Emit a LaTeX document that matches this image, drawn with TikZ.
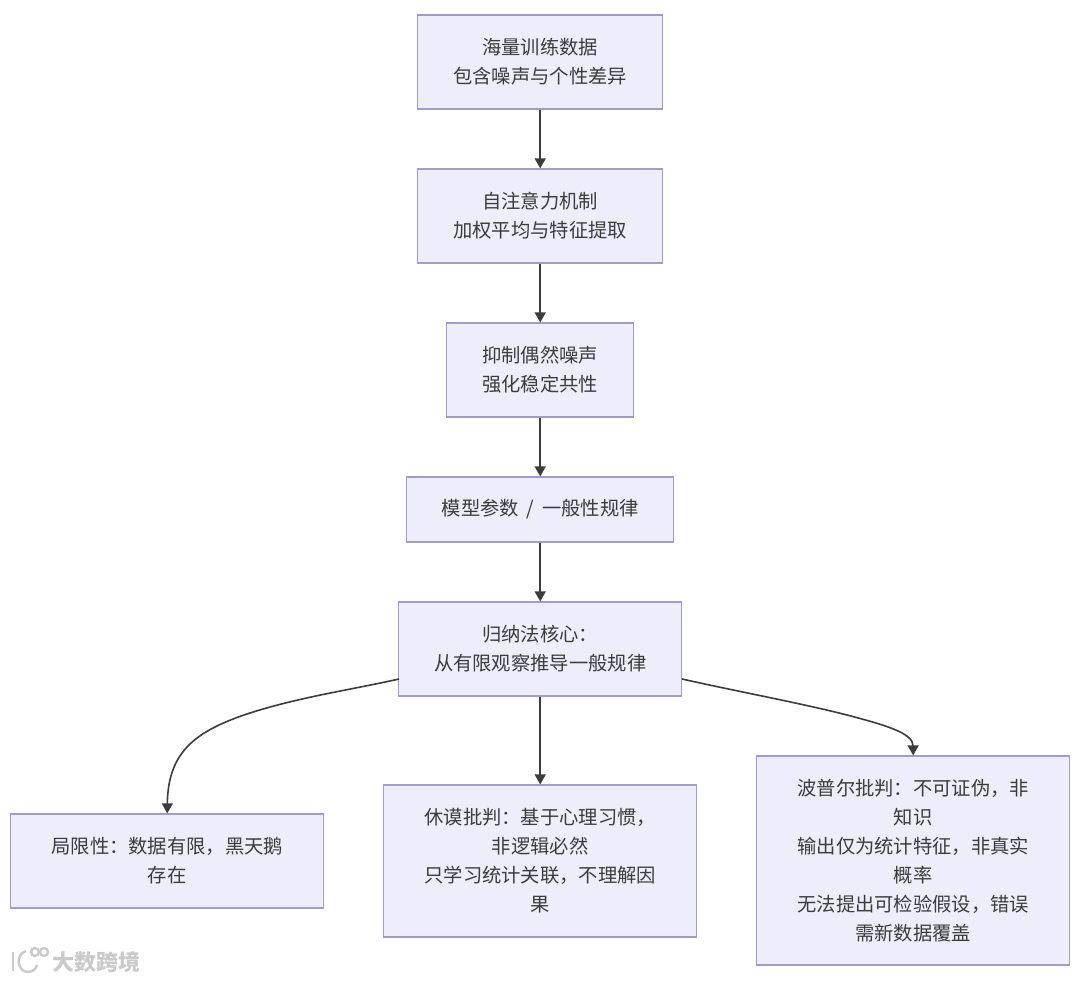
\documentclass[tikz,border=0pt]{standalone}
\usepackage{fontspec}
\setmainfont{Noto Sans CJK SC}
\usetikzlibrary{arrows.meta,calc}
\definecolor{boxfill}{HTML}{EDEDFC}
\definecolor{boxline}{HTML}{A29ACD}
\definecolor{ink}{HTML}{3C3C3C}
\definecolor{wm}{HTML}{CACACA}
\tikzset{
  flowbox/.style={draw=boxline,fill=boxfill,line width=1.25pt,inner sep=0pt,align=center,text=ink,
    font=\fontsize{19.3}{29}\selectfont,anchor=center},
  flowarrow/.style={draw=ink,line width=1.6pt,-{Triangle[length=10pt,width=11pt]}},
  markline/.style={draw=wm,line width=2.4pt,fill=none},
  marktext/.style={text=wm,font=\fontsize{22}{22}\selectfont\bfseries,inner sep=0pt,anchor=west},
}
\begin{document}
\begin{tikzpicture}[x=1pt,y=-1pt]
\useasboundingbox (0,0) rectangle (1080,981);
\fill[white] (0,0) rectangle (1080,981);
\node[flowbox,minimum width=245pt,minimum height=94pt] (n1) at (540.2,62) {海量训练数据\\包含噪声与个性差异};
\node[flowbox,minimum width=245pt,minimum height=94pt] (n2) at (540.2,216) {自注意力机制\\加权平均与特征提取};
\node[flowbox,minimum width=187pt,minimum height=94pt] (n3) at (540.2,370) {抑制偶然噪声\\强化稳定共性};
\node[flowbox,minimum width=267pt,minimum height=65pt] (n4) at (540.2,509.5) {模型参数\hspace{3pt} / \hspace{4pt}一般性规律};
\node[flowbox,minimum width=283pt,minimum height=94pt] (n5) at (540.2,649) {归纳法核心：\\从有限观察推导一般规律};
\node[flowbox,minimum width=313pt,minimum height=94pt] (n6) at (167.2,861) {局限性：数据有限，黑天鹅\\存在};
\node[flowbox,minimum width=313pt,minimum height=152pt] (n7) at (540.2,861) {休谟批判：基于心理习惯，\\非逻辑必然\\只学习统计关联，不理解因\\果};
\node[flowbox,minimum width=313pt,minimum height=209pt] (n8) at (913.2,860.5) {波普尔批判：不可证伪，非\\知识\\输出仅为统计特征，非真实\\概率\\无法提出可检验假设，错误\\需新数据覆盖};
\draw[flowarrow] (n1) -- (n2);
\draw[flowarrow] (n2) -- (n3);
\draw[flowarrow] (n3) -- (n4);
\draw[flowarrow] (n4) -- (n5);
\draw[flowarrow] (n5) -- (n7);
\coordinate (n5l) at (399,679);
\coordinate (n5r) at (682,679);
\coordinate (bendl) at (250,713);
\coordinate (bendr) at (847,715);
\draw[flowarrow] (n5l) .. controls (350,690) and (300,697) .. (bendl) .. controls (195,731) and (168,752) .. (n6.north);
\draw[flowarrow] (n5r) .. controls (740,692) and (800,703) .. (bendr) .. controls (885,725) and (913,733) .. (n8.north);
% watermark
\draw[markline] (13,952) -- (13,971);
\draw[markline] (26,951) .. controls (16,954) and (16,970) .. (27,972) .. controls (33,972) and (36,969) .. (37,965);
\draw[markline] (35,952) circle[radius=4pt];
\draw[markline] (44,952) circle[radius=4pt];
\node[marktext] (wmark) at (52,962) {大数跨境};
\end{tikzpicture}
\end{document}
